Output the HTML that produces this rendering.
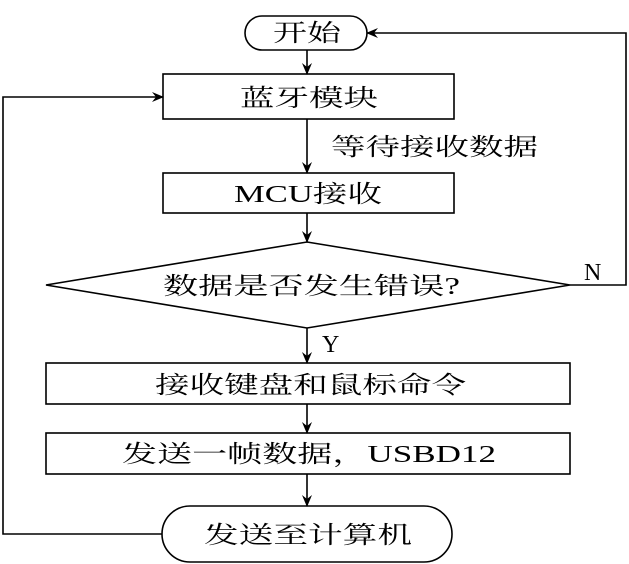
<!DOCTYPE html>
<html><head><meta charset="utf-8"><style>
html,body{margin:0;padding:0;background:#fff;}
svg{display:block;}
text{font-family:"Liberation Serif","Noto Serif CJK SC",serif;font-size:24px;fill:#000;}
</style></head><body>
<svg width="629" height="564" viewBox="0 0 629 564" xmlns="http://www.w3.org/2000/svg">
<defs><marker id="a" markerWidth="12" markerHeight="10" refX="11" refY="5" orient="auto" markerUnits="userSpaceOnUse"><path d="M0,0 L12,5 L0,10 L4,5 Z" fill="#000"/></marker></defs>
<g stroke="#000" stroke-width="1.6" fill="#fff">
<rect x="245" y="16" width="122" height="34" rx="17"/>
<rect x="163" y="74" width="291" height="45"/>
<rect x="163" y="173" width="291" height="40"/>
<polygon points="307,242 570,285 307,328 46,285"/>
<rect x="46" y="363" width="524" height="41"/>
<rect x="46" y="433" width="524" height="41"/>
<rect x="162" y="506" width="290" height="56" rx="28"/>
</g>
<g stroke="#000" stroke-width="1.6" fill="none">
<line x1="307" y1="50" x2="307" y2="74" marker-end="url(#a)"/>
<line x1="307" y1="119" x2="307" y2="173" marker-end="url(#a)"/>
<line x1="307" y1="213" x2="307" y2="242" marker-end="url(#a)"/>
<line x1="307" y1="328" x2="307" y2="363" marker-end="url(#a)"/>
<line x1="307" y1="404" x2="307" y2="433" marker-end="url(#a)"/>
<line x1="307" y1="474" x2="307" y2="506" marker-end="url(#a)"/>
<polyline points="570,285 626,285 626,33 367,33" marker-end="url(#a)"/>
<polyline points="162,534 3,534 3,97 163,97" marker-end="url(#a)"/>
</g>
<text x="273" y="41" textLength="68" lengthAdjust="spacingAndGlyphs">开始</text>
<text x="240" y="106" textLength="138" lengthAdjust="spacingAndGlyphs">蓝牙模块</text>
<text x="331" y="155" textLength="207" lengthAdjust="spacingAndGlyphs">等待接收数据</text>
<text x="234" y="202" textLength="148" lengthAdjust="spacingAndGlyphs">MCU接收</text>
<text x="163" y="294" textLength="297" lengthAdjust="spacingAndGlyphs">数据是否发生错误?</text>
<text x="584" y="280">N</text>
<text x="322" y="352">Y</text>
<text x="155" y="393" textLength="311" lengthAdjust="spacingAndGlyphs">接收键盘和鼠标命令</text>
<text x="122" y="462" textLength="374" lengthAdjust="spacingAndGlyphs">发送一帧数据，USBD12</text>
<text x="204" y="543" textLength="208" lengthAdjust="spacingAndGlyphs">发送至计算机</text>
</svg>
</body></html>
